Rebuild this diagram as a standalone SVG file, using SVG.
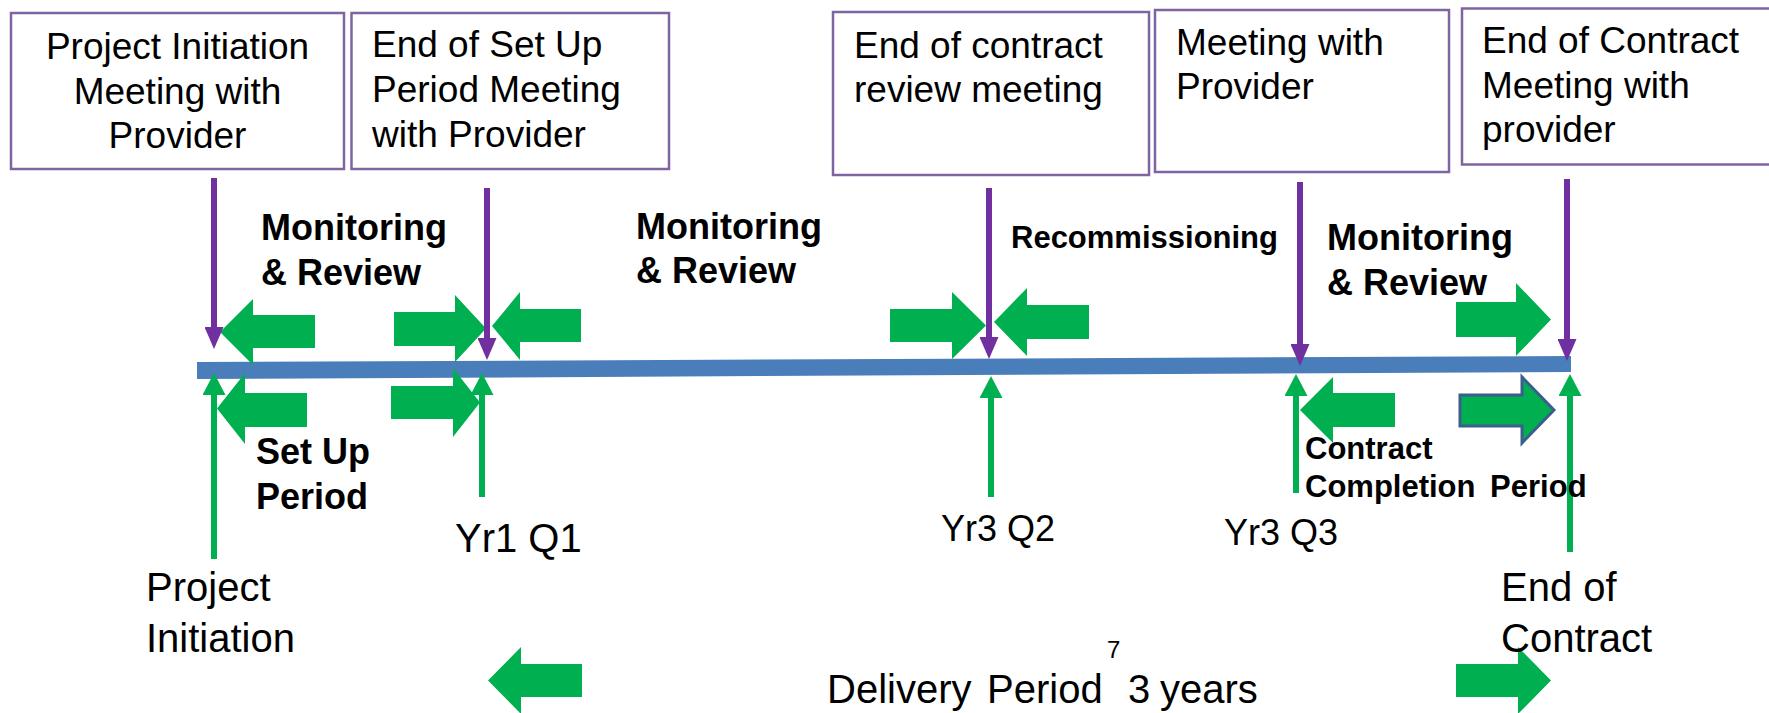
<svg xmlns="http://www.w3.org/2000/svg" width="1769" height="713" viewBox="0 0 1769 713">
<style>
.box{fill:#fff;stroke:#8064A2;stroke-width:2.5}
.bt{font-family:"Liberation Sans",Arial,sans-serif;font-size:37px;fill:#000}
.lb{font-family:"Liberation Sans",Arial,sans-serif;font-size:40px;fill:#000}
.bold{font-family:"Liberation Sans",Arial,sans-serif;font-weight:bold;font-size:36px;fill:#000}
.bsm{font-family:"Liberation Sans",Arial,sans-serif;font-weight:bold;font-size:31px;fill:#000}
.ga{fill:#00B050}
.pl{stroke:#7030A0;stroke-width:6;fill:none}
.gl{stroke:#00B050;stroke-width:6;fill:none}
</style>
<defs>
<marker id="mp" markerUnits="userSpaceOnUse" viewBox="0 0 22 19" markerWidth="22" markerHeight="19" refX="1" refY="9.5" orient="auto"><path d="M0,0 L22,9.5 L0,19 z" fill="#7030A0"/></marker>
<marker id="mg" markerUnits="userSpaceOnUse" viewBox="0 0 22 23" markerWidth="22" markerHeight="23" refX="1" refY="11.5" orient="auto"><path d="M0,0 L22,11.5 L0,23 z" fill="#00B050"/></marker>
</defs>
<rect width="1769" height="713" fill="#fff"/>

<g id="timeline">
<polygon points="197,362 1571,356 1571,372 197,379" fill="#4A7EBB"/>
</g>

<g id="box1">
<rect class="box" x="11" y="13" width="333" height="156"/>
<text class="bt" x="177.5" y="59" text-anchor="middle">Project Initiation</text>
<text class="bt" x="177.5" y="104" text-anchor="middle">Meeting with</text>
<text class="bt" x="177.5" y="148" text-anchor="middle">Provider</text>
</g>
<g id="box2">
<rect class="box" x="351.5" y="13" width="317.5" height="156"/>
<text class="bt" x="372" y="57">End of Set Up</text>
<text class="bt" x="372" y="102">Period Meeting</text>
<text class="bt" x="372" y="147">with Provider</text>
</g>
<g id="box3">
<rect class="box" x="833" y="12" width="316" height="163"/>
<text class="bt" x="854" y="58">End of contract</text>
<text class="bt" x="854" y="102">review meeting</text>
</g>
<g id="box4">
<rect class="box" x="1155" y="10" width="294" height="162"/>
<text class="bt" x="1176" y="55">Meeting with</text>
<text class="bt" x="1176" y="99">Provider</text>
</g>
<g id="box5">
<rect class="box" x="1462" y="8.5" width="320" height="156"/>
<text class="bt" x="1482" y="53">End of Contract</text>
<text class="bt" x="1482" y="98">Meeting with</text>
<text class="bt" x="1482" y="142">provider</text>
</g>

<g id="block-arrows">
<polygon class="ga" points="220,332 253,299 253,315 315,315 315,348 253,348 253,365"/>
<polygon class="ga" points="486,328.5 455,295 455,312 394,312 394,346 455,346 455,362"/>
<polygon class="ga" points="492,326 520,292 520,309 581,309 581,342 520,342 520,360"/>
<polygon class="ga" points="986,325.5 952,292 952,309 890,309 890,342 952,342 952,359"/>
<polygon class="ga" points="994,322 1027,288 1027,305 1089,305 1089,339 1027,339 1027,356"/>
<polygon class="ga" points="1551,319.5 1516,283 1516,302 1456,302 1456,337 1516,337 1516,356"/>
<polygon class="ga" points="217,408.5 245,373 245,393 307,393 307,427 245,427 245,444"/>
<polygon class="ga" points="480,402.5 453,368 453,386 391,386 391,419 453,419 453,437"/>
<polygon class="ga" points="488,680.5 521,647 521,664 582,664 582,697 521,697 521,714"/>
<polygon class="ga" points="1300,410 1333,377 1333,393 1395,393 1395,427 1333,427 1333,443"/>
<polygon class="ga" points="1554,410 1522,377 1522,395 1460,395 1460,426 1522,426 1522,443" stroke="#3B5E8C" stroke-width="3" stroke-linejoin="miter"/>
<polygon class="ga" points="1551,680.5 1518,647 1518,664 1456,664 1456,697 1518,697 1518,714"/>
</g>

<g id="connectors">
<line class="pl" x1="214" y1="178" x2="214" y2="328" marker-end="url(#mp)"/>
<line class="pl" x1="487" y1="188" x2="487" y2="339" marker-end="url(#mp)"/>
<line class="pl" x1="989" y1="188" x2="989" y2="338" marker-end="url(#mp)"/>
<line class="pl" x1="1300" y1="182" x2="1300" y2="345" marker-end="url(#mp)"/>
<line class="pl" x1="1567" y1="179" x2="1567" y2="340" marker-end="url(#mp)"/>
<line class="gl" x1="214" y1="559" x2="214" y2="394" marker-end="url(#mg)"/>
<line class="gl" x1="482" y1="497" x2="482" y2="394" marker-end="url(#mg)"/>
<line class="gl" x1="991" y1="497" x2="991" y2="397" marker-end="url(#mg)"/>
<line class="gl" x1="1296" y1="493" x2="1296" y2="395" marker-end="url(#mg)"/>
<line class="gl" x1="1570" y1="552" x2="1570" y2="395" marker-end="url(#mg)"/>
</g>

<g id="labels">
<text class="bold" x="261" y="240">Monitoring</text>
<text class="bold" x="261" y="285">&amp; Review</text>
<text class="bold" x="636" y="239">Monitoring</text>
<text class="bold" x="636" y="283">&amp; Review</text>
<text class="bsm" x="1011" y="248">Recommissioning</text>
<text class="bold" x="1327" y="250">Monitoring</text>
<text class="bold" x="1327" y="295">&amp; Review</text>
<text class="bold" x="256" y="464">Set Up</text>
<text class="bold" x="256" y="509">Period</text>
<text class="bsm" x="1305" y="459">Contract</text>
<text class="bsm" x="1305" y="497" word-spacing="6">Completion Period</text>
<text class="lb" x="455" y="552">Yr1 Q1</text>
<text class="lb" x="941" y="541" style="font-size:36px">Yr3 Q2</text>
<text class="lb" x="1224" y="545" style="font-size:36px">Yr3 Q3</text>
<text class="lb" x="146" y="601">Project</text>
<text class="lb" x="146" y="652">Initiation</text>
<text class="lb" x="1501" y="601">End of</text>
<text class="lb" x="1501" y="652">Contract</text>
<text class="lb" x="1107" y="658" style="font-size:24px">7</text>
<text class="lb" y="703"><tspan x="827">Delivery</tspan> <tspan x="987">Period</tspan> <tspan x="1128">3</tspan> <tspan x="1160">years</tspan></text>
</g>
</svg>
